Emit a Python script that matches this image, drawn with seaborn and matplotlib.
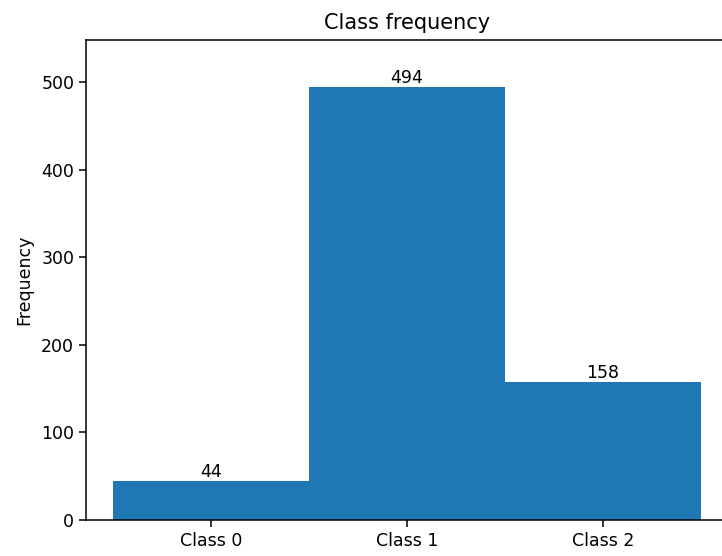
import matplotlib
matplotlib.use("Agg")
import matplotlib.pyplot as plt
import seaborn as sns
import pandas as pd

# class counts
classes = ["Class 0", "Class 1", "Class 2"]
counts = [44, 494, 158]

df = pd.DataFrame({"cls": classes, "count": counts})

fig = plt.figure(figsize=(7.22, 5.56), dpi=100)
# axes runs slightly past the right edge, as in the reference
ax = fig.add_axes([86 / 722, 36 / 556, (728 - 86) / 722, 480 / 556])

sns.barplot(data=df, x="cls", y="count", color="#1f77b4", saturation=1,
            width=1.0, ax=ax)

# put counts on top of each bar
ax.bar_label(ax.containers[0], fontsize=12.5, padding=0)

ax.set_xlim(-0.64, 2.64)
ax.set_ylim(0, 548)
ax.set_xlabel("")
ax.set_ylabel("Frequency", fontsize=12.5, labelpad=6)
ax.set_title("Class frequency", fontsize=15, pad=8)
ax.tick_params(labelsize=12.5, length=5, width=1.1)
for sp in ax.spines.values():
    sp.set_linewidth(1.1)

fig.savefig("out.png", dpi=100)
